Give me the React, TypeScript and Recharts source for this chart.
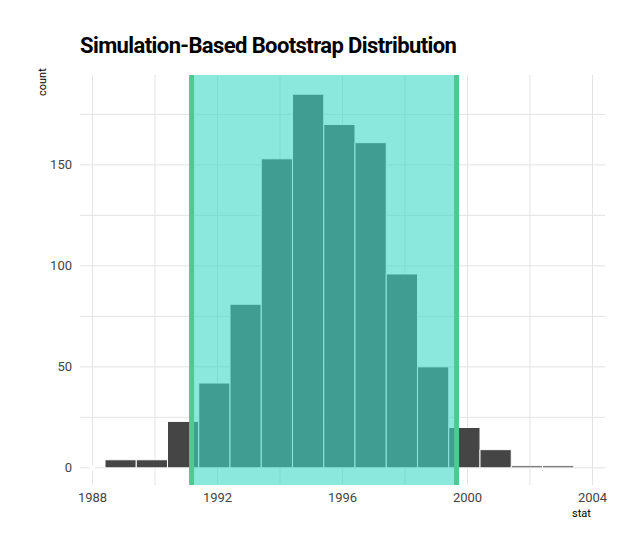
import { ComposedChart, XAxis, YAxis, CartesianGrid, ReferenceArea, ReferenceLine, Line } from 'recharts'

// bootstrap histogram, binwidth 1
const binStarts = [1988.4, 1989.4, 1990.4, 1991.4, 1992.4, 1993.4, 1994.4, 1995.4, 1996.4, 1997.4, 1998.4, 1999.4, 2000.4, 2001.4, 2002.4]
const counts = [4, 4, 23, 42, 81, 153, 185, 170, 161, 96, 50, 20, 9, 1, 1]
const ciLower = 1991.17
const ciUpper = 1999.65
const xTicks = [1988, 1992, 1996, 2000, 2004]
const yTicks = [0, 50, 100, 150]
const xGrid = [1988, 1990, 1992, 1994, 1996, 1998, 2000, 2002, 2004]
const yGrid = [0, 25, 50, 75, 100, 125, 150, 175]

const font = 'Roboto, "Noto Sans", sans-serif'

export default function App() {
  const dummy = [{ x: 1988, y: 0 }]
  return (
    <div style={{ position: 'absolute', left: 0, top: 0, width: 633, height: 560, background: '#fff', fontFamily: font }}>
      <div style={{ position: 'absolute', left: 80, top: 33, fontSize: 22, fontWeight: 700, letterSpacing: -0.6, color: '#000' }}>
        Simulation-Based Bootstrap Distribution
      </div>
      <div style={{ position: 'absolute', left: 36, top: 96, fontSize: 11, color: '#000', transform: 'rotate(-90deg)', transformOrigin: 'left top' }}>
        count
      </div>
      <div style={{ position: 'absolute', left: 572, top: 507, fontSize: 11, color: '#000' }}>stat</div>
      <ComposedChart width={633} height={560} data={dummy} margin={{ top: 75, right: 28, bottom: 45, left: 40 }}>
        <CartesianGrid stroke="#e3e3e3" verticalValues={xGrid} horizontalValues={yGrid} />
        <XAxis
          type="number"
          dataKey="x"
          domain={[1987.6, 2004.4]}
          ticks={xTicks}
          axisLine={false}
          tickLine={false}
          height={30}
          tick={{ fontSize: 13, fill: '#444', fontFamily: font }}
          allowDataOverflow
        />
        <YAxis
          type="number"
          domain={[-8.5, 194.5]}
          ticks={yTicks}
          axisLine={false}
          tickLine={false}
          width={40}
          tick={{ fontSize: 13, fill: '#444', fontFamily: font }}
          allowDataOverflow
        />
        {binStarts.map((s, i) => (
          <ReferenceArea
            key={i}
            x1={s}
            x2={s + 1}
            y1={0}
            y2={counts[i]}
            fill="#454545"
            fillOpacity={1}
            stroke="#ffffff"
            strokeWidth={1}
            ifOverflow="visible"
          />
        ))}
        <ReferenceArea x1={ciLower} x2={ciUpper} fill="#3cd9c5" fillOpacity={0.6} stroke="none" ifOverflow="visible" />
        <ReferenceLine x={ciLower} stroke="#4fc891" strokeWidth={5} />
        <ReferenceLine x={ciUpper} stroke="#4fc891" strokeWidth={5} />
        <Line dataKey="y" stroke="none" dot={false} isAnimationActive={false} />
      </ComposedChart>
    </div>
  )
}
